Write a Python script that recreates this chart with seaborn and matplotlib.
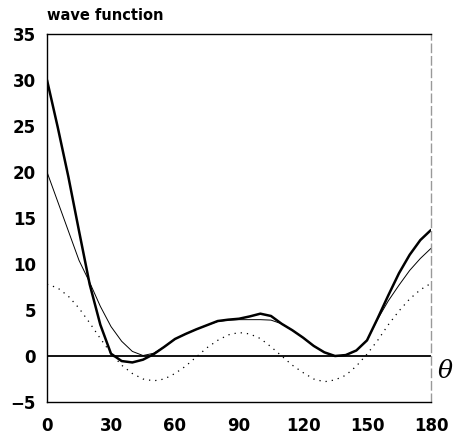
import matplotlib
matplotlib.use("Agg")
import matplotlib.pyplot as plt
import seaborn as sns
import pandas as pd

# angles (degrees) read every 5 degrees off the scanned figure
theta = list(range(0, 185, 5))

# thick solid curve
total = [30.0, 24.9, 19.5, 13.6, 7.8, 3.4, 0.25, -0.55, -0.7, -0.4, 0.2, 1.0,
         1.85, 2.4, 2.9, 3.35, 3.8, 3.95, 4.05, 4.3, 4.6, 4.35, 3.5, 2.8, 2.0,
         1.1, 0.4, 0.0, 0.1, 0.6, 1.7, 4.1, 6.6, 9.0, 11.0, 12.6, 13.7]

# thin solid curve
thin = [20.0, 16.8, 13.6, 10.4, 8.0, 5.4, 3.2, 1.6, 0.5, 0.05, 0.3, 1.0,
        1.85, 2.4, 2.9, 3.35, 3.75, 3.9, 3.95, 3.95, 3.95, 3.9, 3.5, 2.8, 2.0,
        1.1, 0.4, 0.0, 0.1, 0.6, 1.7, 4.0, 6.0, 7.7, 9.3, 10.6, 11.7]

# dotted curve
dotted = [7.8, 7.4, 6.5, 5.2, 3.6, 1.9, 0.3, -1.0, -1.9, -2.5, -2.7, -2.5,
          -1.9, -1.1, -0.1, 0.9, 1.7, 2.3, 2.55, 2.4, 1.9, 1.0, 0.0, -1.0, -1.8,
          -2.5, -2.8, -2.6, -2.1, -1.1, 0.2, 1.7, 3.4, 4.9, 6.2, 7.2, 7.9]

xticks = [0, 30, 60, 90, 120, 150, 180]
yticks = [-5, 0, 5, 10, 15, 20, 25, 30, 35]

df = pd.DataFrame({"theta": theta, "total": total, "thin": thin, "dotted": dotted})

sns.set_style("white")
plt.rcParams["font.family"] = ["DejaVu Sans"]

fig = plt.figure(figsize=(4.54, 4.41), dpi=100)
ax = fig.add_axes([47 / 454, 1 - 402 / 441, 384 / 454, 368 / 441])

ax.axhline(0, color="black", lw=1.3, zorder=1)
sns.lineplot(data=df, x="theta", y="dotted", ax=ax, color="black", lw=0.9,
             linestyle=(0, (1, 4)), sort=False)
sns.lineplot(data=df, x="theta", y="thin", ax=ax, color="black", lw=0.7, sort=False)
sns.lineplot(data=df, x="theta", y="total", ax=ax, color="black", lw=1.8, sort=False)

ax.set_xlim(0, 180)
ax.set_ylim(-5, 35)
ax.set_xticks(xticks)
ax.set_yticks(yticks)
ax.set_xlabel("")
ax.set_ylabel("")
ax.tick_params(axis="both", direction="in", colors="black", labelsize=12, width=1)
ax.tick_params(axis="x", length=9, pad=11)
ax.tick_params(axis="y", length=6, pad=8)
for lab in ax.get_xticklabels() + ax.get_yticklabels():
    lab.set_fontweight("bold")

for side in ["left", "bottom", "top"]:
    ax.spines[side].set_color("black")
    ax.spines[side].set_linewidth(1.0)
ax.spines["right"].set_color("#999999")
ax.spines["right"].set_linewidth(1.0)
ax.spines["right"].set_linestyle((0, (6, 3)))

fig.text(47 / 454, 1 - 15 / 441, "wave function", fontsize=10.5, fontweight="bold",
         color="black", ha="left", va="center")
fig.text(445 / 454, 1 - 372 / 441, "θ", fontsize=18, family="DejaVu Serif",
         style="italic", color="black", ha="center", va="center")

fig.savefig("out.png", dpi=100)
